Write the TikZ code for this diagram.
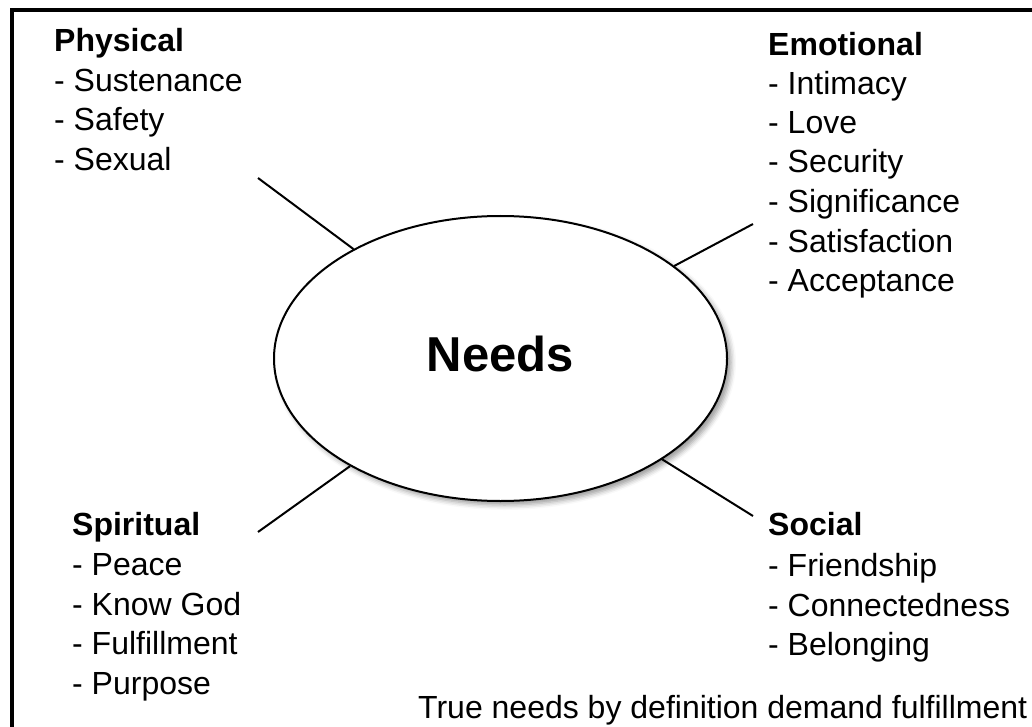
\documentclass[tikz,border=0pt]{standalone}
\usepackage{fontspec}
\setmainfont{Liberation Sans}
\usetikzlibrary{shapes.geometric,shadows.blur}

\begin{document}
\begin{tikzpicture}[x=1pt, y=-1pt,
    head/.style={anchor=base west, inner sep=0pt, font=\fontsize{32}{38}\selectfont\bfseries},
    item/.style={anchor=base west, inner sep=0pt, font=\fontsize{32}{38}\selectfont},
    link/.style={line width=2pt}]

    % Page size and frame
    \useasboundingbox (0,0) rectangle (1032,727);
    \clip (0,0) rectangle (1032,727);
    \draw[line width=4pt] (12,10) rectangle (1060,760);

    % Centre ellipse
    \node[ellipse, draw, line width=2pt, fill=white, inner sep=0pt,
          minimum width=453pt, minimum height=285pt,
          text height=35pt, text depth=10pt,
          blur shadow={shadow xshift=4pt, shadow yshift=-4pt, shadow blur radius=5pt}]
          (needs) at (500.5,358.5) {\fontsize{49}{58}\selectfont\bfseries Needs};

    % Physical (top left)
    \node[head] (phys) at (54,52) {Physical};
    \node[item] (physA) at (54,91.5) {- Sustenance};
    \node[item] (physB) at (54,131) {- Safety};
    \node[item] (physC) at (54,170.5) {- Sexual};

    % Emotional (top right)
    \node[head] (emo) at (768,56) {Emotional};
    \node[item] (emoA) at (768,95) {- Intimacy};
    \node[item] (emoB) at (768,134) {- Love};
    \node[item] (emoC) at (768,173) {- Security};
    \node[item] (emoD) at (768,212.5) {- Significance};
    \node[item] (emoE) at (768,252) {- Satisfaction};
    \node[item] (emoF) at (768,291) {- Acceptance};

    % Spiritual (bottom left)
    \node[head] (spir) at (72,535) {Spiritual};
    \node[item] (spirA) at (72,575) {- Peace};
    \node[item] (spirB) at (72,615) {- Know God};
    \node[item] (spirC) at (72,654.5) {- Fulfillment};
    \node[item] (spirD) at (72,694) {- Purpose};

    % Social (bottom right)
    \node[head] (soc) at (768,535) {Social};
    \node[item] (socA) at (768,576) {- Friendship};
    \node[item] (socB) at (768,616) {- Connectedness};
    \node[item] (socC) at (768,655.5) {- Belonging};

    % Footnote
    \node[item] (note) at (418,718) {True needs by definition demand fulfillment};

    % Spokes
    \coordinate (physEnd) at (258,178);
    \coordinate (emoEnd) at (753,224);
    \coordinate (spirEnd) at (258,532);
    \coordinate (socEnd) at (753,516);
    \draw[link] (physEnd) -- (needs);
    \draw[link] (emoEnd) -- (needs);
    \draw[link] (spirEnd) -- (needs);
    \draw[link] (socEnd) -- (needs);

\end{tikzpicture}
\end{document}
